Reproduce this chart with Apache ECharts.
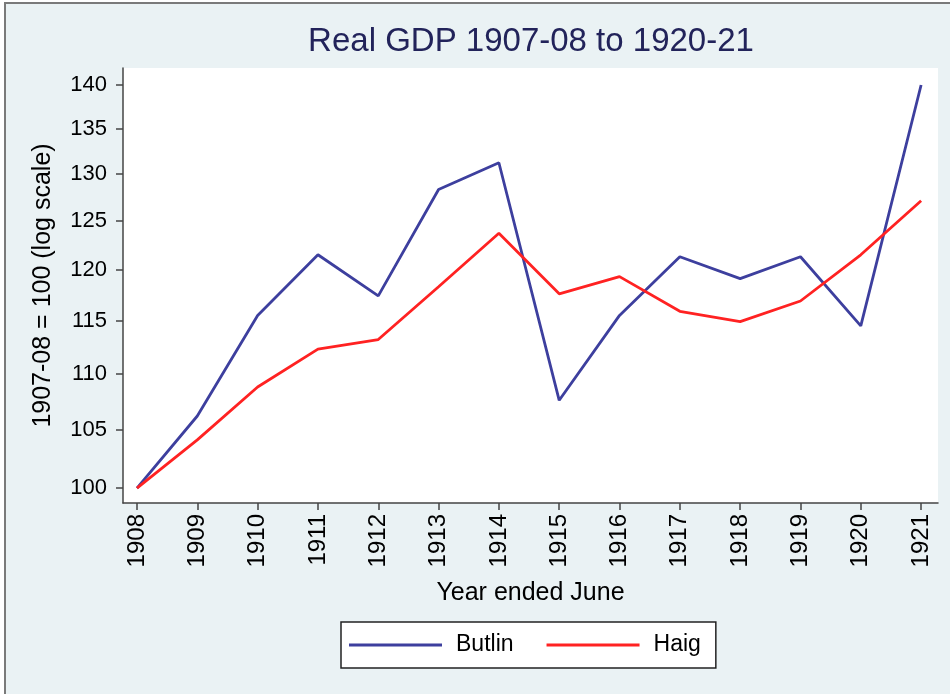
<!DOCTYPE html>
<html>
<head>
<meta charset="utf-8">
<script src="https://cdn.jsdelivr.net/npm/echarts@6/dist/echarts.min.js"></script>
<style>
  html, body { margin: 0; padding: 0; background: #ffffff; }
  #frame { position: absolute; left: 4px; top: 2px; width: 960px; height: 700px;
           border: 2px solid #7a7a7a; background: #eaf2f4; }
  #chart { position: absolute; left: 0; top: 0; width: 950px; height: 694px; }
</style>
</head>
<body>
<div id="frame"></div>
<div id="chart"></div>
<script>
// ---- data ----
const years = [1908, 1909, 1910, 1911, 1912, 1913, 1914, 1915, 1916, 1917, 1918, 1919, 1920, 1921];
const butlin = [100, 106.2, 115.5, 121.5, 117.4, 128.3, 131.2, 107.6, 115.5, 121.3, 119.1, 121.3, 114.5, 140.0];
const haig   = [100, 104.1, 108.8, 112.3, 113.2, 118.3, 123.7, 117.6, 119.3, 115.9, 114.9, 116.9, 121.5, 127.1];
const yTicks = [100, 105, 110, 115, 120, 125, 130, 135, 140];
const seriesNames = ['Butlin', 'Haig'];

// log scale: values are plotted as log10 on a value axis
const toLog = v => Math.log10(v);
const FONT = 'Liberation Sans, Arial, sans-serif';

const chart = echarts.init(document.getElementById('chart'));
chart.setOption({
  backgroundColor: 'transparent',
  animation: false,
  title: {
    text: 'Real GDP 1907-08 to 1920-21',
    left: 531, top: 25, padding: 0, textAlign: 'center',
    textStyle: { fontFamily: FONT, fontSize: 33, fontWeight: 'normal', color: '#22235a' }
  },
  grid: {
    left: 123, right: 12, top: 68, bottom: 191,
    show: true, backgroundColor: '#ffffff', borderWidth: 0
  },
  legend: {
    left: 341, top: 622,
    padding: [11, 15, 11, 8],
    backgroundColor: '#ffffff', borderColor: '#222222', borderWidth: 1.5, borderRadius: 0,
    icon: 'rect', itemWidth: 93, itemHeight: 3, itemGap: 33,
    textStyle: { fontFamily: FONT, fontSize: 23, color: '#000000', padding: [0, 0, 0, 9], lineHeight: 24 },
    data: seriesNames
  },
  xAxis: {
    type: 'value',
    min: 1907.768, max: 1921.28,
    name: 'Year ended June', nameLocation: 'middle', nameGap: 78,
    nameTextStyle: { fontFamily: FONT, fontSize: 25, color: '#000000' },
    axisLine: { lineStyle: { color: '#444444', width: 1.5 } },
    axisTick: { show: true, length: 7, inside: false, customValues: years, lineStyle: { color: '#444444', width: 1.5 } },
    axisLabel: {
      customValues: years, rotate: 90, margin: 11,
      fontFamily: FONT, fontSize: 24, color: '#000000',
      formatter: v => String(Math.round(v))
    },
    splitLine: { show: false }
  },
  yAxis: {
    type: 'value',
    min: toLog(98.76), max: toLog(142.0),
    name: '1907-08 = 100 (log scale)', nameLocation: 'middle', nameGap: 67, nameRotate: 90,
    nameTextStyle: { fontFamily: FONT, fontSize: 25, color: '#000000' },
    axisLine: { show: true, lineStyle: { color: '#444444', width: 1.5 } },
    axisTick: { show: true, length: 7, inside: false, customValues: yTicks.map(toLog), lineStyle: { color: '#444444', width: 1.5 } },
    axisLabel: {
      customValues: yTicks.map(toLog), margin: 16,
      fontFamily: FONT, fontSize: 22, color: '#000000',
      formatter: v => String(Math.round(Math.pow(10, v)))
    },
    splitLine: { show: false }
  },
  series: [
    {
      name: seriesNames[0], type: 'line', showSymbol: false,
      lineStyle: { color: '#3d3f9e', width: 2.8 }, itemStyle: { color: '#3d3f9e' },
      data: years.map((y, i) => [y, toLog(butlin[i])])
    },
    {
      name: seriesNames[1], type: 'line', showSymbol: false,
      lineStyle: { color: '#ff2222', width: 2.8 }, itemStyle: { color: '#ff2222' },
      data: years.map((y, i) => [y, toLog(haig[i])])
    }
  ]
});
</script>
</body>
</html>
